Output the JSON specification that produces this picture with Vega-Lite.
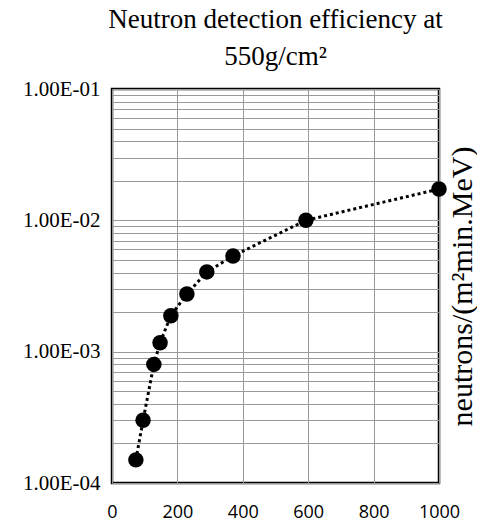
{
  "$schema": "https://vega.github.io/schema/vega-lite/v6.json",
  "width": 327,
  "height": 394,
  "autosize": {"type": "pad"},
  "padding": {"left": 22, "top": 6, "right": 0, "bottom": 0},
  "background": "white",
  "title": {
    "text": ["Neutron detection efficiency at", "550g/cm²"],
    "font": "Liberation Serif",
    "fontSize": 27,
    "fontWeight": "normal",
    "lineHeight": 37,
    "color": "black",
    "anchor": "middle",
    "offset": 7
  },
  "config": {"view": {"stroke": "black", "strokeWidth": 2.5}},
  "data": {
    "values": [
      {"x": 73, "y": 0.00015},
      {"x": 95, "y": 0.0003},
      {"x": 128, "y": 0.0008},
      {"x": 147, "y": 0.00117},
      {"x": 180, "y": 0.00188},
      {"x": 229, "y": 0.00275},
      {"x": 290, "y": 0.00405},
      {"x": 370, "y": 0.00535},
      {"x": 593, "y": 0.01},
      {"x": 1000, "y": 0.0173}
    ]
  },
  "encoding": {
    "x": {
      "field": "x",
      "type": "quantitative",
      "scale": {"domain": [0, 1000], "nice": false},
      "axis": {
        "values": [0, 200, 400, 600, 800, 1000],
        "format": "d",
        "grid": true,
        "gridColor": "#999999",
        "gridWidth": 1,
        "ticks": false,
        "domain": false,
        "labelFont": "Open Sans",
        "labelFontSize": 18,
        "labelColor": "black",
        "labelPadding": 20,
        "labelFlush": false,
        "labelDx": -4,
        "title": null
      }
    }
  },
  "layer": [
    {
      "mark": {"type": "line", "color": "black", "strokeDash": [3, 3], "strokeWidth": 3, "clip": false},
      "encoding": {
        "y": {
          "field": "y",
          "type": "quantitative",
          "scale": {"type": "log", "domain": [0.0001, 0.1], "nice": false},
          "axis": {
            "orient": "left",
            "values": [0.0001, 0.0002, 0.0003, 0.0004, 0.0005, 0.0006, 0.0007, 0.0008, 0.0009, 0.001, 0.002, 0.003, 0.004, 0.005, 0.006, 0.007, 0.008, 0.009, 0.01, 0.02, 0.03, 0.04, 0.05, 0.06, 0.07, 0.08, 0.09, 0.1],
            "labelExpr": "abs(log(datum.value)/LN10 - round(log(datum.value)/LN10)) < 0.001 ? '1.00E-0' + (-round(log(datum.value)/LN10)) : ''",
            "grid": true,
            "gridColor": "#999999",
            "gridWidth": 1,
            "ticks": false,
            "domain": false,
            "labelFont": "Liberation Serif",
            "labelFontSize": 21,
            "labelColor": "black",
            "labelPadding": 12,
            "labelOverlap": false,
            "title": null
          }
        }
      }
    },
    {
      "mark": {"type": "point", "filled": true, "shape": "circle", "size": 240, "color": "black", "opacity": 1, "clip": false},
      "encoding": {
        "y": {
          "field": "y",
          "type": "quantitative",
          "scale": {"type": "log", "domain": [0.0001, 0.1], "nice": false},
          "axis": {
            "orient": "right",
            "labels": false,
            "ticks": false,
            "domain": false,
            "grid": false,
            "title": "neutrons/(m²min.MeV)",
            "titleFont": "Liberation Serif",
            "titleFontSize": 30,
            "titleFontWeight": "normal",
            "titleColor": "black",
            "titleAngle": 270,
            "titlePadding": 38
          }
        }
      }
    }
  ],
  "resolve": {"axis": {"y": "independent"}}
}
